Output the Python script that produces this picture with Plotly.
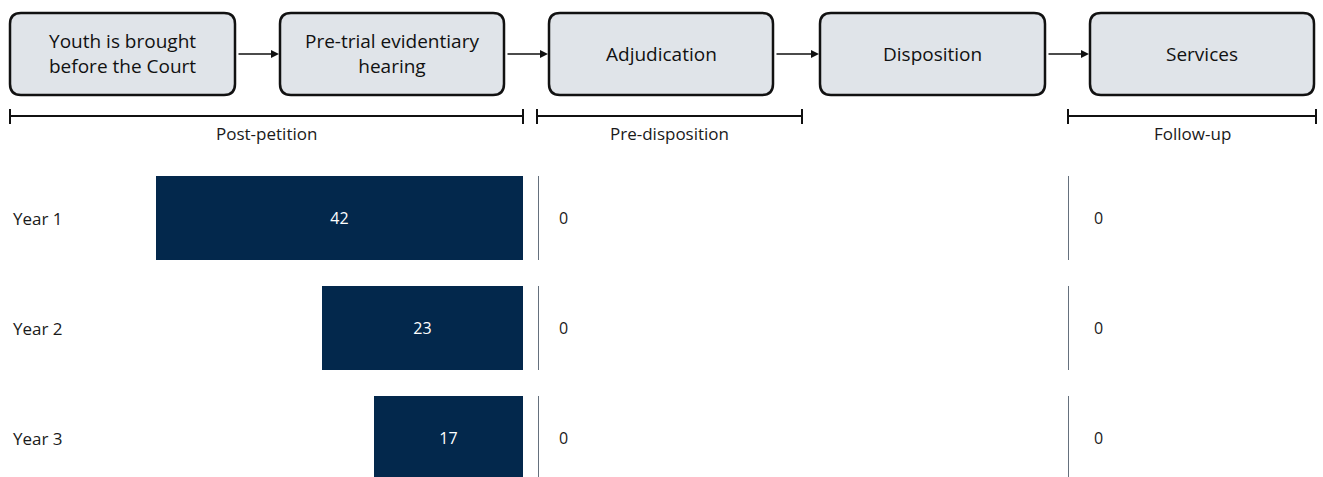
import plotly.graph_objects as go

W, H = 1323, 477

stages = ["Youth is brought<br>before the Court", "Pre-trial evidentiary<br>hearing",
          "Adjudication", "Disposition", "Services"]
phases = ["Post-petition", "Pre-disposition", "Follow-up"]
years = ["Year 1", "Year 2", "Year 3"]
post_petition = [42, 23, 17]
pre_disposition = [0, 0, 0]
follow_up = [0, 0, 0]

BAR_COLOR = "#03284c"
BOX_FILL = "#e0e4e9"
FONT = "Open Sans"
LABEL_SIZE = 17


def px(x):
    return x / W


def py(y):
    return 1 - y / H


def rounded_box(x0, y0, x1, y1, r=11):
    # rounded rect path in paper coords, input in pixels
    pts = [
        f"M {px(x0 + r)},{py(y0)}",
        f"L {px(x1 - r)},{py(y0)}",
        f"Q {px(x1)},{py(y0)} {px(x1)},{py(y0 + r)}",
        f"L {px(x1)},{py(y1 - r)}",
        f"Q {px(x1)},{py(y1)} {px(x1 - r)},{py(y1)}",
        f"L {px(x0 + r)},{py(y1)}",
        f"Q {px(x0)},{py(y1)} {px(x0)},{py(y1 - r)}",
        f"L {px(x0)},{py(y0 + r)}",
        f"Q {px(x0)},{py(y0)} {px(x0 + r)},{py(y0)}",
        "Z",
    ]
    return " ".join(pts)


fig = go.Figure()
rows = list(range(len(years)))

fig.add_trace(go.Bar(
    y=rows, x=post_petition, orientation="h", xaxis="x", yaxis="y",
    marker={"color": BAR_COLOR, "line": {"width": 0}}, width=0.764,
    text=[str(v) for v in post_petition], textposition="inside",
    insidetextanchor="middle", textfont={"color": "white", "size": 16, "family": FONT},
    showlegend=False, hoverinfo="skip",
))
for axis, vals in (("x2", pre_disposition), ("x3", follow_up)):
    fig.add_trace(go.Bar(
        y=rows, x=vals, orientation="h", xaxis=axis, yaxis="y",
        marker={"color": BAR_COLOR}, width=0.764, showlegend=False, hoverinfo="skip",
    ))
    lx, ly = [], []
    for i in rows:
        lx += [0, 0, None]
        ly += [i - 0.382, i + 0.382, None]
    fig.add_trace(go.Scatter(
        x=lx, y=ly, xaxis=axis, yaxis="y", mode="lines",
        line={"color": "#65707d", "width": 2}, showlegend=False, hoverinfo="skip",
    ))

annotations = []
for axis, vals, shift in (("x2", pre_disposition, 25), ("x3", follow_up, 30)):
    for i, v in zip(rows, vals):
        annotations.append(dict(
            xref=axis, yref="y", x=0, y=i, xshift=shift, text=str(v), showarrow=False,
            xanchor="center", yanchor="middle",
            font={"size": 16, "color": "#1a1a1a", "family": FONT},
        ))
for i, lab in zip(rows, years):
    annotations.append(dict(
        xref="paper", yref="y", x=px(11), y=i, xanchor="left", yanchor="middle",
        text=lab, showarrow=False,
        font={"size": LABEL_SIZE, "color": "#1a1a1a", "family": FONT},
    ))

# process boxes
box_x = [(10, 235), (280, 504), (549, 773), (820, 1045), (1090, 1314)]
shapes = []
for (x0, x1), lab in zip(box_x, stages):
    shapes.append(dict(type="path", xref="paper", yref="paper", path=rounded_box(x0, 13, x1, 95),
                       fillcolor=BOX_FILL, line={"color": "#111", "width": 2.5}, layer="below"))
    annotations.append(dict(
        xref="paper", yref="paper", x=px((x0 + x1) / 2), y=py(54), text=lab, showarrow=False,
        xanchor="center", yanchor="middle",
        font={"size": 19, "color": "#111", "family": FONT},
    ))
for (a0, a1), (b0, b1) in zip(box_x[:-1], box_x[1:]):
    annotations.append(dict(
        xref="paper", yref="paper", axref="pixel", ayref="pixel",
        x=px(b0 - 1), y=py(54), ax=-(b0 - a1 - 3), ay=0, text="",
        showarrow=True, arrowhead=2, arrowsize=1, arrowwidth=1.6, arrowcolor="#111",
    ))

# phase brackets
brackets = [(10, 523), (537, 802), (1068, 1316)]
for (x0, x1), lab in zip(brackets, phases):
    shapes.append(dict(type="line", xref="paper", yref="paper", x0=px(x0), x1=px(x1),
                       y0=py(116), y1=py(116), line={"color": "#111", "width": 2}))
    for xe in (x0, x1):
        shapes.append(dict(type="line", xref="paper", yref="paper", x0=px(xe), x1=px(xe),
                           y0=py(109), y1=py(124), line={"color": "#111", "width": 2}))
    annotations.append(dict(
        xref="paper", yref="paper", x=px((x0 + x1) / 2), y=py(133), text=lab, showarrow=False,
        xanchor="center", yanchor="middle",
        font={"size": LABEL_SIZE, "color": "#1a1a1a", "family": FONT},
    ))

scale = 367 / 42  # px per unit
hidden = dict(showticklabels=False, showgrid=False, zeroline=False, showline=False, ticks="")
fig.update_layout(
    width=W, height=H, margin=dict(l=0, r=0, t=0, b=0),
    paper_bgcolor="white", plot_bgcolor="white",
    xaxis=dict(domain=[0, px(523)], range=[523 / scale, 0], anchor="y", **hidden),
    xaxis2=dict(domain=[px(538), px(802)], range=[0, 264 / scale], anchor="y", **hidden),
    xaxis3=dict(domain=[px(1068), px(1316)], range=[0, 248 / scale], anchor="y", **hidden),
    yaxis=dict(domain=[0, py(160)], range=[(477 - 218) / 110, -58 / 110], **hidden),
    shapes=shapes, annotations=annotations, bargap=0,
)

fig.write_html("out.html", config={"displayModeBar": False},
               post_script="document.body.style.margin = '0';")
